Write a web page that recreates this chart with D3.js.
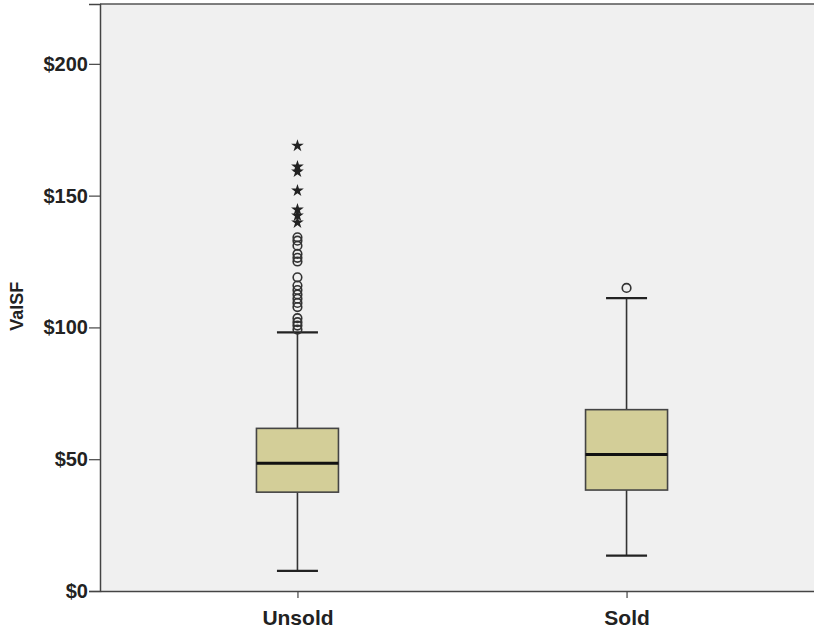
<!DOCTYPE html>
<html>
<head>
<meta charset="utf-8">
<script src="https://cdn.jsdelivr.net/npm/d3@7"></script>
<style>
  body { margin: 0; background: #fff; }
  text { font-family: "Liberation Sans", Arial, sans-serif; font-weight: bold; fill: #222; }
</style>
</head>
<body>
<div id="chart"></div>
<script>
// Box statistics per group
const categories = ['Unsold', 'Sold'];
const whiskerLow = [7.6, 13.4];
const q1 = [37.5, 38.3];
const median = [48.5, 51.8];
const q3 = [61.7, 68.8];
const whiskerHigh = [98.1, 111.1];

// Outliers (circles) and extremes (stars)
const outliersUnsold = [134.2, 132.9, 131.0, 127.9, 126.4, 125.0, 119.0, 115.9, 114.2, 112.5, 110.9, 109.3, 107.7, 103.5, 102.0, 100.7, 99.2];
const extremesUnsold = [168.9, 161.0, 159.1, 151.9, 144.7, 142.4, 139.8];
const outliersSold = [115.0];
const extremesSold = [];

const yTicks = [0, 50, 100, 150, 200];

const width = 814, height = 630;
const margin = { top: 4, right: -10, bottom: 39, left: 100 };
const plotW = width - margin.left - margin.right;
const plotH = height - margin.top - margin.bottom;

const svg = d3.select('#chart').append('svg')
  .attr('width', width)
  .attr('height', height);

const g = svg.append('g')
  .attr('transform', `translate(${margin.left},${margin.top})`);

const y = d3.scaleLinear().domain([0, 222.7]).range([plotH, 0]);
const x = d3.scalePoint().domain(categories).range([0, plotW]).padding(0.6);

// plot background
g.append('rect')
  .attr('width', plotW)
  .attr('height', plotH)
  .attr('fill', '#f0f0f0');

// frame
g.append('line').attr('x1', 0).attr('x2', plotW).attr('y1', 0).attr('y2', 0)
  .attr('stroke', '#555').attr('stroke-width', 1.5);

// Y axis
const yAxis = g.append('g')
  .call(d3.axisLeft(y).tickValues(yTicks).tickFormat(d => '$' + d).tickSize(11).tickPadding(1));
yAxis.select('.domain').attr('stroke', '#444').attr('stroke-width', 1.5);
yAxis.selectAll('.tick line').attr('stroke', '#444').attr('stroke-width', 1.2);
yAxis.selectAll('text').style('font-size', '20px').attr('fill', '#222');

svg.append('text')
  .attr('transform', `translate(23,${margin.top + y(108)}) rotate(-90)`)
  .attr('text-anchor', 'middle')
  .style('font-size', '18px')
  .text('ValSF');

// X axis
const xAxis = g.append('g')
  .attr('transform', `translate(0,${plotH})`)
  .call(d3.axisBottom(x).tickSize(7).tickPadding(12).tickSizeOuter(0));
xAxis.select('.domain').attr('stroke', '#444').attr('stroke-width', 1.5);
xAxis.selectAll('.tick line').attr('stroke', '#444').attr('stroke-width', 1.2);
xAxis.selectAll('text').style('font-size', '21px').attr('fill', '#222');

const boxW = 82, capW = 41;

categories.forEach((c, i) => {
  const cx = x(c);
  // whisker stem
  g.append('line')
    .attr('x1', cx).attr('x2', cx)
    .attr('y1', y(whiskerLow[i])).attr('y2', y(whiskerHigh[i]))
    .attr('stroke', '#333').attr('stroke-width', 1.6);
  // caps
  [whiskerLow[i], whiskerHigh[i]].forEach(v => {
    g.append('line')
      .attr('x1', cx - capW / 2).attr('x2', cx + capW / 2)
      .attr('y1', y(v)).attr('y2', y(v))
      .attr('stroke', '#222').attr('stroke-width', 2.2);
  });
  // box
  g.append('rect')
    .attr('x', cx - boxW / 2)
    .attr('y', y(q3[i]))
    .attr('width', boxW)
    .attr('height', y(q1[i]) - y(q3[i]))
    .attr('fill', '#d3ce98')
    .attr('stroke', '#444')
    .attr('stroke-width', 1.6);
  // median
  g.append('line')
    .attr('x1', cx - boxW / 2).attr('x2', cx + boxW / 2)
    .attr('y1', y(median[i])).attr('y2', y(median[i]))
    .attr('stroke', '#111').attr('stroke-width', 3);
});

const outliers = [outliersUnsold, outliersSold];
const extremes = [extremesUnsold, extremesSold];
const star = d3.symbol().type(d3.symbolStar).size(50);

categories.forEach((c, i) => {
  const cx = x(c);
  g.selectAll(null)
    .data(outliers[i])
    .enter()
    .append('circle')
    .attr('cx', cx)
    .attr('cy', d => y(d))
    .attr('r', 4.3)
    .attr('fill', 'none')
    .attr('stroke', '#333')
    .attr('stroke-width', 1.6);
  g.selectAll(null)
    .data(extremes[i])
    .enter()
    .append('path')
    .attr('d', star)
    .attr('transform', d => `translate(${cx},${y(d)})`)
    .attr('fill', '#222');
});
</script>
</body>
</html>
